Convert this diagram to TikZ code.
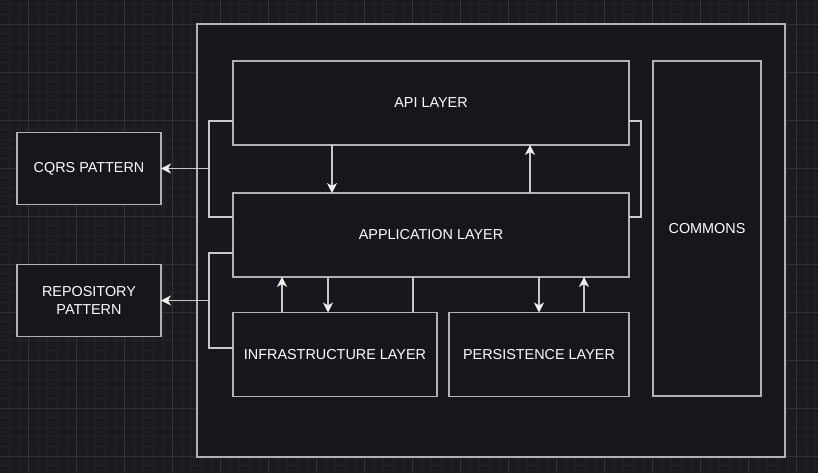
\documentclass[tikz,border=0pt]{standalone}
\usepackage{fontspec}
\setmainfont{Liberation Sans}
\usetikzlibrary{arrows.meta}

\definecolor{canvas}{RGB}{28,26,33}
\definecolor{boxfill}{RGB}{24,21,29}
\definecolor{gridmajor}{RGB}{52,50,57}
\definecolor{gridminor}{RGB}{37,35,42}
\definecolor{edge}{RGB}{178,178,178}
\definecolor{wirecol}{RGB}{200,200,200}
\definecolor{tipcol}{RGB}{240,240,240}

\tikzset{
  layer/.style={draw=edge, fill=boxfill, line width=1.3pt, outer sep=0pt, inner sep=0pt,
    text=white, align=center, font=\fontsize{14.4}{18}\selectfont},
  wire/.style={draw=wirecol, line width=1.3pt},
  arr/.style={wire, -{Stealth[length=10pt,width=10pt,inset=3pt,color=tipcol]}}
}

\begin{document}
\begin{tikzpicture}[x=1pt, y=-1pt]
    \useasboundingbox[fill=canvas] (0,0) rectangle (818,473);

    \foreach \k in {-2,...,82} \draw[gridminor, line width=0.8pt] ({28.5+9.6*\k},0) -- ({28.5+9.6*\k},473);
    \foreach \k in {-2,...,46} \draw[gridminor, line width=0.8pt] (0,{24+9.6*\k}) -- (818,{24+9.6*\k});
    \foreach \k in {0,...,16} \draw[gridmajor, line width=0.8pt] ({28.5+48*\k},0) -- ({28.5+48*\k},473);
    \foreach \k in {0,...,9} \draw[gridmajor, line width=0.8pt] (0,{24+48*\k}) -- (818,{24+48*\k});

    \node[layer, minimum width=588pt, minimum height=433pt] (outer) at (491,240.5) {};

    \node[layer, minimum width=396pt, minimum height=84pt] (api) at (431,103) {API LAYER};
    \node[layer, minimum width=396pt, minimum height=84pt] (app) at (431,235) {APPLICATION LAYER};
    \node[layer, minimum width=204pt, minimum height=84pt] (infra) at (335,354.5) {INFRASTRUCTURE LAYER};
    \node[layer, minimum width=180pt, minimum height=84pt] (pers) at (539,354.5) {PERSISTENCE LAYER};
    \node[layer, minimum width=108pt, minimum height=335pt] (commons) at (707,228.5) {COMMONS};

    \node[layer, minimum width=144pt, minimum height=72pt] (cqrs) at (89,168.5) {CQRS PATTERN};
    \node[layer, minimum width=144pt, minimum height=72pt] (repo) at (89,300.5) {REPOSITORY\\PATTERN};

    \coordinate (cqjoin) at (209,168.5);
    \coordinate (repojoin) at (209,300.5);

    \draw[wire] ([yshift=-18pt]api.west) -| (cqjoin);
    \draw[wire] ([yshift=18pt]app.west) -| (cqjoin);
    \draw[arr] (cqjoin) -- (cqrs.east);

    \draw[wire] ([yshift=-18pt]app.west) -| (repojoin);
    \draw[wire] ([yshift=6.5pt]infra.west) -| (repojoin);
    \draw[arr] (repojoin) -- (repo.east);

    \draw[wire] ([yshift=-18pt]api.east) -- ++(12,0) |- ([yshift=18pt]app.east);

    \draw[arr] ([xshift=99pt]api.south west) -- ([xshift=99pt]app.north west);
    \draw[arr] ([xshift=297pt]app.north west) -- ([xshift=297pt]api.south west);

    \draw[arr] ([xshift=49pt]infra.north west) -- ([xshift=49pt]app.south west);
    \draw[arr] ([xshift=95pt]app.south west) -- ([xshift=95pt]infra.north west);
    \draw[wire] ([xshift=180pt]app.south west) -- ([xshift=180pt]infra.north west);

    \draw[arr] ([xshift=306pt]app.south west) -- (pers.north);
    \draw[arr] ([xshift=135pt]pers.north west) -- ([xshift=351pt]app.south west);
\end{tikzpicture}
\end{document}
